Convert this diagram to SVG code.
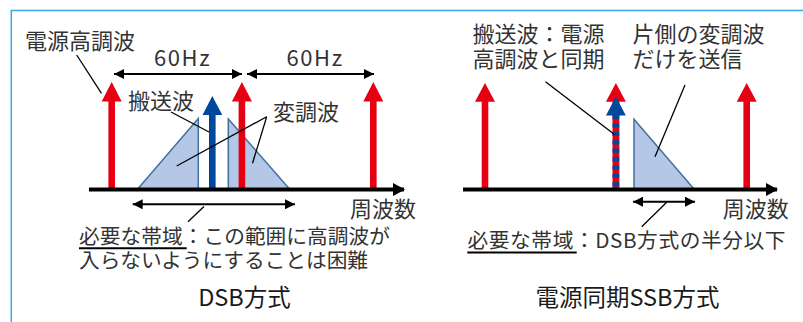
<svg xmlns="http://www.w3.org/2000/svg" width="803" height="322" viewBox="0 0 803 322">
<style>
text{font-family:"Noto Sans CJK JP","Noto Sans",sans-serif;fill:#333333;font-size:22px}
.sm{font-size:20.7px}
.ttl{font-size:23.5px;fill:#1a1a1a}
.hz{letter-spacing:1.6px}
.red{fill:#e60012}
.blue{fill:#00489c}
.tri{fill:#b4c7e7;stroke:#41719c;stroke-width:1.5;stroke-linejoin:miter}
.lead{stroke:#000;stroke-width:1.3;fill:none}
.dim{stroke:#000;stroke-width:2;fill:none;marker-start:url(#ah);marker-end:url(#ah)}
.axis{stroke:#000;stroke-width:4;fill:none;marker-end:url(#axh)}
.ul{stroke:#000;stroke-width:2}
</style>
<defs>
<marker id="ah" viewBox="0 0 10 10" refX="10" refY="5" markerWidth="11" markerHeight="10" markerUnits="userSpaceOnUse" orient="auto-start-reverse">
<path d="M0,0 L10,5 L0,10 Z" fill="#000"/>
</marker>
<marker id="axh" viewBox="0 0 12 13" refX="11" refY="6.5" markerWidth="12" markerHeight="13" markerUnits="userSpaceOnUse" orient="auto">
<path d="M0,0 L12,6.5 L0,13 Z" fill="#000"/>
</marker>
</defs>
<rect width="803" height="322" fill="#ffffff"/>
<g id="frame" stroke="#3aa6e4" stroke-width="1.5" fill="none">
<path d="M11.3,322 L11.3,10.5 L803,10.5"/>
</g>

<g id="dsb">
<g id="dsb-sidebands">
<polygon class="tri" points="137.7,189 198.3,118.5 198.3,189"/>
<polygon class="tri" points="228.3,119 289.5,189 228.3,189"/>
</g>
<g id="dsb-harm1"><rect class="red" x="108.4" y="100" width="6.6" height="89"/><polygon class="red" points="101.7,101.5 111.7,82 121.7,101.5"/></g>
<g id="dsb-harm2"><rect class="red" x="238.6" y="100" width="6.6" height="89"/><polygon class="red" points="231.9,101.5 241.9,82 251.9,101.5"/></g>
<g id="dsb-harm3"><rect class="red" x="370" y="100" width="6.6" height="89"/><polygon class="red" points="363.3,101.5 373.3,82 383.3,101.5"/></g>
<g id="dsb-carrier"><rect class="blue" x="209" y="113" width="6.6" height="76"/><polygon class="blue" points="202.5,115 212.3,96 222.3,115"/></g>
<g id="dsb-labels">
<text x="25" y="48.5">電源高調波</text>
<text class="hz" x="154" y="66">60Hz</text>
<text class="hz" x="286.5" y="66">60Hz</text>
<text x="128" y="109">搬送波</text>
<text x="273" y="120">変調波</text>
<text x="350" y="216.5">周波数</text>
<text class="sm" x="79" y="244" textLength="311" lengthAdjust="spacing">必要な帯域：この範囲に高調波が</text>
<text class="sm" x="79" y="268" textLength="289" lengthAdjust="spacing">入らないようにすることは困難</text>
<text class="ttl" x="244.5" y="306" text-anchor="middle">DSB方式</text>
</g>
</g>

<g id="ssb">
<g id="ssb-sideband"><polygon class="tri" points="634,119.3 694,189 634,189"/></g>
<g id="ssb-harm1"><rect class="red" x="481.7" y="100" width="6.6" height="89"/><polygon class="red" points="475,101.7 485,83 495,101.7"/></g>
<g id="ssb-harm3"><rect class="red" x="743.4" y="100" width="6.6" height="89"/><polygon class="red" points="736.7,101.7 746.7,83 756.7,101.7"/></g>
<g id="ssb-carrier">
<polygon class="red" points="605.9,101.7 615.9,83 625.9,101.7"/>
<rect class="red" x="612.5" y="100" width="6.8" height="89"/>
<line x1="615.9" y1="115" x2="615.9" y2="189" stroke="#00489c" stroke-width="6.8" stroke-dasharray="4.2 4.2"/>
<polygon class="blue" points="606,115.5 615.9,96.5 625.8,115.5"/>
</g>
<g id="ssb-labels">
<text x="472.5" y="42">搬送波：電源</text>
<text x="472.5" y="67">高調波と同期</text>
<text x="632.5" y="42">片側の変調波</text>
<text x="632.5" y="67">だけを送信</text>
<text x="722.7" y="216.5">周波数</text>
<text class="sm" x="467.5" y="247.5" textLength="318" lengthAdjust="spacing">必要な帯域：DSB方式の半分以下</text>
<text class="ttl" x="627.5" y="306" text-anchor="middle">電源同期SSB方式</text>
</g>
</g>

<g id="connectors">
<line class="axis" x1="89" y1="189.5" x2="404" y2="189.5"/>
<line class="axis" x1="463" y1="189.5" x2="777" y2="189.5"/>
<line class="dim" x1="114" y1="74" x2="242" y2="74"/>
<line class="dim" x1="247" y1="74" x2="374" y2="74"/>
<line class="dim" x1="132.7" y1="204.3" x2="295" y2="204.3"/>
<line class="dim" x1="633" y1="201.7" x2="695" y2="201.7"/>
<line class="lead" x1="76.7" y1="55" x2="101.5" y2="93.3"/>
<line class="lead" x1="171" y1="112" x2="209" y2="132"/>
<line class="lead" x1="266.7" y1="116.7" x2="176.7" y2="166"/>
<line class="lead" x1="266.7" y1="116.7" x2="252.5" y2="163.3"/>
<line class="lead" x1="204" y1="206.5" x2="188" y2="221.7"/>
<line class="lead" x1="545.5" y1="81.7" x2="614.5" y2="134.5"/>
<line class="lead" x1="685" y1="85" x2="655" y2="156.7"/>
<line class="lead" x1="666.7" y1="202.3" x2="641.7" y2="226.7"/>
<line class="ul" x1="79" y1="248.3" x2="186.7" y2="248.3"/>
<line class="ul" x1="467.3" y1="252.5" x2="576.7" y2="252.5"/>
</g>
</svg>
